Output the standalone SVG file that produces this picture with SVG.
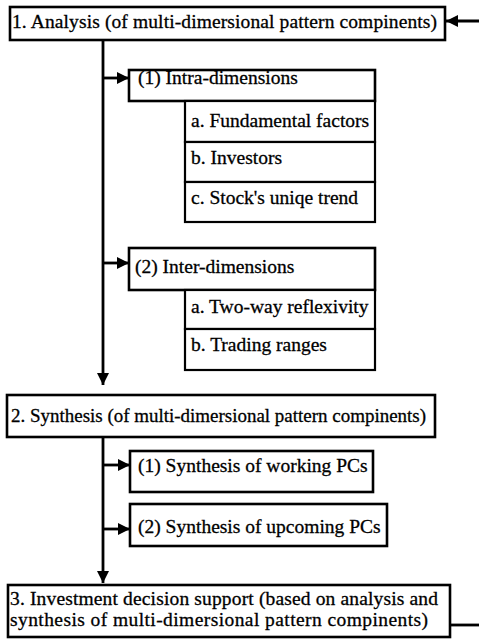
<svg xmlns="http://www.w3.org/2000/svg" width="479" height="641" viewBox="0 0 479 641">
<defs>
<marker id="ah" markerUnits="userSpaceOnUse" markerWidth="12" markerHeight="12" refX="12" refY="6" orient="auto">
<path d="M0,0 L12,6 L0,12 z" fill="#000"/>
</marker>
</defs>
<style>
rect{fill:#fff;stroke:#000;stroke-width:2.6}
.sub{stroke-width:2.2}
text{font-family:"Liberation Serif","Times New Roman",serif;font-size:19.5px;fill:#000;stroke:#000;stroke-width:0.3}
.c{fill:none;stroke:#000;stroke-width:2.8}
</style>
<rect x="0" y="0" width="479" height="641" style="stroke:none"/>
<g id="connectors">
<path class="c" d="M479,21 H446" marker-end="url(#ah)"/>
<path class="c" d="M103,40 V385" marker-end="url(#ah)"/>
<path class="c" d="M103,78 H129" marker-end="url(#ah)"/>
<path class="c" d="M103,263 H129" marker-end="url(#ah)"/>
<path class="c" d="M103,437 V583" marker-end="url(#ah)"/>
<path class="c" d="M103,465 H130" marker-end="url(#ah)"/>
<path class="c" d="M103,529 H130" marker-end="url(#ah)"/>
<path class="c" d="M450,625 H479"/>
</g>
<g id="n1"><rect x="10" y="7" width="435" height="33"/><text x="12" y="28" textLength="425">1. Analysis (of multi-dimersional pattern compinents)</text></g>
<g id="n1-1"><rect x="129" y="70" width="246" height="31"/><text x="138" y="84">(1) Intra-dimensions</text></g>
<g id="n1-1a"><rect class="sub" x="185" y="101" width="190" height="41"/><text x="191" y="127">a. Fundamental factors</text></g>
<g id="n1-1b"><rect class="sub" x="185" y="142" width="190" height="40"/><text x="191" y="164">b. Investors</text></g>
<g id="n1-1c"><rect class="sub" x="185" y="182" width="190" height="40"/><text x="191" y="204">c. Stock's uniqe trend</text></g>
<g id="n1-2"><rect x="129" y="248" width="246" height="42"/><text x="135" y="273">(2) Inter-dimensions</text></g>
<g id="n1-2a"><rect class="sub" x="185" y="290" width="190" height="39"/><text x="191" y="313">a. Two-way reflexivity</text></g>
<g id="n1-2b"><rect class="sub" x="185" y="329" width="190" height="41"/><text x="191" y="351">b. Trading ranges</text></g>
<g id="n2"><rect x="7" y="395" width="428" height="42"/><text x="11" y="422" textLength="415" lengthAdjust="spacingAndGlyphs">2. Synthesis (of multi-dimersional pattern compinents)</text></g>
<g id="n2-1"><rect x="130" y="451" width="243" height="41"/><text x="138" y="472">(1) Synthesis of working PCs</text></g>
<g id="n2-2"><rect x="130" y="504" width="257" height="42"/><text x="138" y="533">(2) Synthesis of upcoming PCs</text></g>
<g id="n3"><rect x="8" y="585" width="442" height="52"/><text x="10" y="605" textLength="428">3. Investment decision support (based on analysis and</text><text x="10" y="626" textLength="418">synthesis of multi-dimersional pattern compinents)</text></g>
</svg>
